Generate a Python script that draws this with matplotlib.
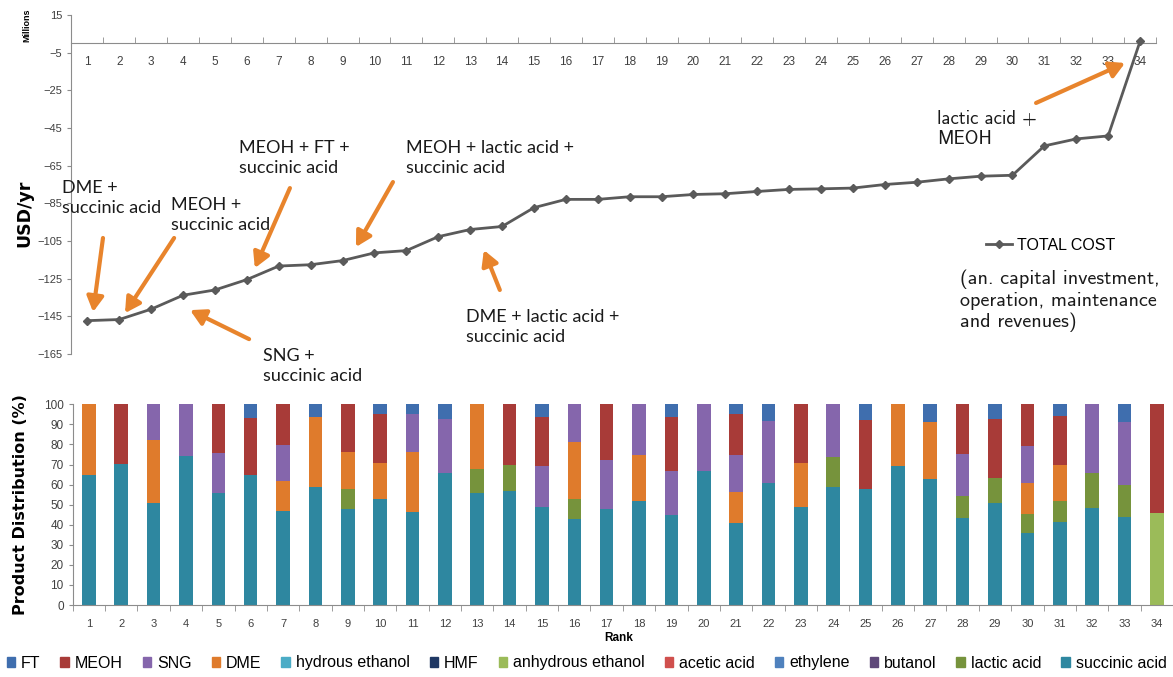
import numpy as np
import matplotlib
matplotlib.use("Agg")
import matplotlib.pyplot as plt
from matplotlib.patches import Patch
from matplotlib.lines import Line2D

# ---- data ----
ranks = np.arange(1, 35)

total_cost = [-147.3, -146.7, -141.2, -133.8, -131.0, -125.5, -118.3, -117.6, -115.4, -111.3,
              -110.1, -102.7, -98.9, -97.3, -87.3, -82.9, -82.9, -81.5, -81.5, -80.3,
              -79.9, -78.7, -77.6, -77.3, -76.9, -75.0, -73.8, -72.0, -70.6, -70.1,
              -54.5, -50.8, -49.2, 1.0]

succinic = [65, 70.5, 51, 74, 56, 65, 47, 59, 48, 53, 46.5, 66, 56, 57, 49, 43, 48, 52, 45, 67,
            41, 61, 49, 59, 58, 69.5, 63, 43.5, 51, 36, 41.5, 48.5, 44, 0]
lactic = [0, 0, 0, 0, 0, 0, 0, 0, 10, 0, 0, 0, 12, 13, 0, 10, 0, 0, 0, 0,
          0, 0, 0, 14.5, 0, 0, 0, 11, 12.5, 9.5, 10.5, 17.5, 16, 0]
anhydrous = [0] * 33 + [46]
dme = [35, 0, 31, 0, 0, 0, 15, 34.5, 18, 18, 29.5, 0, 32, 0, 0, 28, 0, 22.5, 0, 0,
       15.5, 0, 22, 0, 0, 30.5, 28, 0, 0, 15.5, 18, 0, 0, 0]
sng = [0, 0, 18, 26, 19.6, 0, 17.5, 0, 0, 0, 19, 26.5, 0, 0, 20.5, 19, 24, 25.5, 22, 33,
       18, 30.5, 0, 26.5, 0, 0, 0, 20.5, 0, 18, 0, 34, 31, 0]
meoh = [0, 29.5, 0, 0, 24.4, 28, 20.5, 0, 24, 24, 0, 0, 0, 30, 24, 0, 28, 0, 26.5, 0,
        20.5, 0, 29, 0, 34, 0, 0, 25, 29, 21, 24, 0, 0, 54]
ft = [0, 0, 0, 0, 0, 7, 0, 6.5, 0, 5, 5, 7.5, 0, 0, 6.5, 0, 0, 0, 6.5, 0,
      5, 8.5, 0, 0, 8, 0, 9, 0, 7.5, 0, 6, 0, 9, 0]
zeros = [0] * 34

legend_names = ["FT", "MEOH", "SNG", "DME", "hydrous ethanol", "HMF", "anhydrous ethanol",
                "acetic acid", "ethylene", "butanol", "lactic acid", "succinic acid"]
series = {"FT": ft, "MEOH": meoh, "SNG": sng, "DME": dme, "hydrous ethanol": zeros,
          "HMF": zeros, "anhydrous ethanol": anhydrous, "acetic acid": zeros,
          "ethylene": zeros, "butanol": zeros, "lactic acid": lactic, "succinic acid": succinic}
colors = {"FT": "#3F6EAE", "MEOH": "#A83B38", "SNG": "#8566AC", "DME": "#DF7B2C",
          "hydrous ethanol": "#4BACC6", "HMF": "#1F3864", "anhydrous ethanol": "#9BBB59",
          "acetic acid": "#D0504D", "ethylene": "#4F81BD", "butanol": "#5F497A",
          "lactic acid": "#76933C", "succinic acid": "#2E87A0"}

W, H = 1173, 677
def fx(px):
    return px / W
def fy(py):
    return 1 - py / H

narrow = ["Liberation Sans", "DejaVu Sans"]
ann_font = ["Lato", "DejaVu Sans"]
cm_font = ["cmss10", "DejaVu Sans"]
grey = "#8C8C8C"
orange = "#E8842C"

fig = plt.figure(figsize=(11.73, 6.77), dpi=100)

# ---- top: total cost line ----
ax1 = fig.add_axes([fx(71.4), fy(354), fx(1156) - fx(71.4), fy(15) - fy(354)])
ax1.plot(ranks, total_cost, color="#5A5A5A", lw=2, marker="D", ms=4.5, zorder=3)
ax1.set_xlim(0.5, 34.5)
ax1.set_ylim(-165, 15)
ax1.set_yticks(np.arange(-165, 16, 20))
ax1.set_xticks(ranks)
ax1.set_xticks(np.arange(0.5, 35, 1), minor=True)
ax1.spines["bottom"].set_position(("data", 0))
ax1.spines["top"].set_visible(False)
ax1.spines["right"].set_visible(False)
for s in ("bottom", "left"):
    ax1.spines[s].set_color(grey)
    ax1.spines[s].set_linewidth(0.8)
ax1.tick_params(axis="x", which="major", length=0, pad=9, labelsize=8.5, labelcolor="#404040")
ax1.tick_params(axis="x", which="minor", direction="in", length=4, color=grey)
ax1.tick_params(axis="y", length=3, color=grey, labelsize=8, labelcolor="#404040")
for lab in ax1.get_xticklabels() + ax1.get_yticklabels():
    lab.set_family(narrow)

fig.text(fx(27), fy(25), "Millions", rotation=90, ha="center", va="center",
         fontsize=6.5, fontweight="bold", family=narrow)
fig.text(fx(24), fy(213), "USD/yr", rotation=90, ha="center", va="center",
         fontsize=12.5, fontweight="bold")

arrows = [((1.49, -103.4), (1.18, -142.7)),
          ((3.72, -103.4), (2.18, -143.3)),
          ((7.35, -76.9), (6.25, -119.4)),
          ((10.58, -73.7), (9.42, -108.2)),
          ((6.07, -157.1), (4.22, -141.7)),
          ((13.93, -131.0), (13.43, -109.8)),
          ((30.74, -31.7), (33.53, -10.5))]
for tail, head in arrows:
    ax1.annotate("", xy=head, xytext=tail,
                 arrowprops=dict(arrowstyle="-|>,head_length=0.9,head_width=0.5",
                                 color=orange, lw=3, shrinkA=0, shrinkB=0))

labels = [(62, 198, "DME +\nsuccinic acid"),
          (171, 215, "MEOH +\nsuccinic acid"),
          (239, 158, "MEOH + FT +\nsuccinic acid"),
          (406, 158, "MEOH + lactic acid +\nsuccinic acid"),
          (263, 366, "SNG +\nsuccinic acid"),
          (466, 327, "DME + lactic acid +\nsuccinic acid")]
for px, py, txt in labels:
    fig.text(fx(px), fy(py), txt, ha="left", va="center", fontsize=13,
             family=ann_font, color="#1A1A1A", linespacing=1.25)
fig.text(fx(937), fy(129), "lactic acid +\nMEOH", ha="left", va="center", fontsize=13.5,
         family=cm_font, color="#1A1A1A", linespacing=1.2)

ax_w = fx(1156) - fx(71.4)
ax_h = fy(15) - fy(354)
ax1.legend([Line2D([], [], color="#5A5A5A", lw=2, marker="D", ms=4.5)], ["TOTAL COST"],
           loc="center left", bbox_to_anchor=((fx(980) - fx(71.4)) / ax_w, (fy(245) - fy(354)) / ax_h),
           frameon=False, handlelength=1.6, handletextpad=0.3, borderaxespad=0,
           prop={"family": narrow, "size": 11.5})
fig.text(fx(960), fy(301), "(an. capital investment,\noperation, maintenance\nand revenues)",
         ha="left", va="center", fontsize=14.5, family=cm_font, color="#1A1A1A",
         linespacing=1.2)

# ---- bottom: product distribution ----
ax2 = fig.add_axes([fx(72.7), fy(605), fx(1173) - fx(72.7), fy(404.3) - fy(605)])
bottom = np.zeros(34)
for name in legend_names[::-1]:
    vals = np.array(series[name], dtype=float)
    ax2.bar(ranks, vals, 0.42, bottom=bottom, color=colors[name], lw=0, label=name)
    bottom += vals
ax2.set_xlim(0.5, 34.36)
ax2.set_ylim(0, 100)
ax2.set_yticks(np.arange(0, 101, 10))
ax2.set_xticks(ranks)
ax2.set_xticks(np.arange(0.5, 35, 1), minor=True)
ax2.spines["top"].set_visible(False)
ax2.spines["right"].set_visible(False)
for s in ("bottom", "left"):
    ax2.spines[s].set_color(grey)
    ax2.spines[s].set_linewidth(0.8)
ax2.tick_params(axis="x", which="major", length=0, pad=10, labelsize=8, labelcolor="#404040")
ax2.tick_params(axis="x", which="minor", direction="out", length=4, color=grey)
ax2.tick_params(axis="y", length=3, color=grey, labelsize=8.5, labelcolor="#404040")
for lab in ax2.get_xticklabels() + ax2.get_yticklabels():
    lab.set_family(narrow)

fig.text(fx(21), fy(505), "Product Distribution (%)", rotation=90, ha="center", va="center",
         fontsize=11.5, fontweight="bold")
fig.text(fx(619), fy(638), "Rank", ha="center", va="center", fontsize=8.5,
         fontweight="bold", family=narrow)

leg_handles = [Patch(color=colors[n]) for n in legend_names]
fig.legend(leg_handles, legend_names, ncol=12, loc="center", bbox_to_anchor=(0.5, fy(663)),
           frameon=False, handlelength=0.55, handleheight=0.55, handletextpad=0.35,
           columnspacing=1.25, borderpad=0.1, prop={"family": narrow, "size": 11.5})

fig.savefig("out.png", dpi=100)
